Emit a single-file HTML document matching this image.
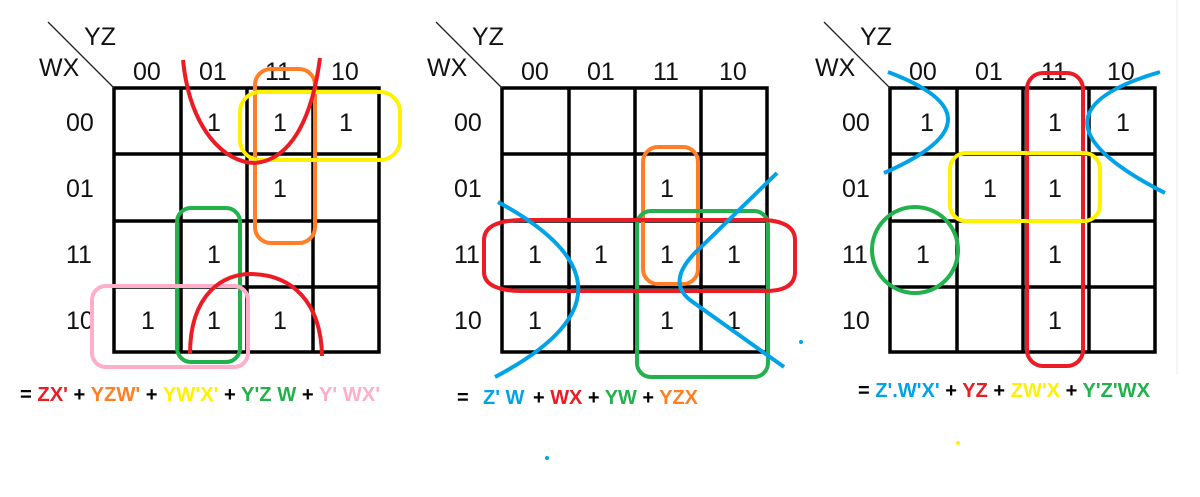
<!DOCTYPE html>
<html><head><meta charset="utf-8"><style>
html,body{margin:0;padding:0;background:#fff;width:1200px;height:497px;overflow:hidden}
svg text{font-family:"Liberation Sans",Arial,sans-serif}
</style></head><body>
<svg width="1200" height="497" viewBox="0 0 1200 497" xmlns="http://www.w3.org/2000/svg">
<defs>
<g id="kmap">
  <g stroke="#000" stroke-width="3.5" fill="none">
    <rect x="0" y="0" width="265" height="264"/>
    <line x1="67" y1="0" x2="67" y2="264"/><line x1="133" y1="0" x2="133" y2="264"/><line x1="199" y1="0" x2="199" y2="264"/>
    <line x1="0" y1="66" x2="265" y2="66"/><line x1="0" y1="133" x2="265" y2="133"/><line x1="0" y1="199" x2="265" y2="199"/>
  </g>
  <line x1="-66" y1="-66" x2="0" y2="0" stroke="#222" stroke-width="1.3"/>
  <g font-size="25" fill="#111">
    <text x="-30" y="-43">YZ</text>
    <text x="-75" y="-12">WX</text>
    <text x="19" y="-8">00</text><text x="85" y="-8">01</text><text x="151" y="-8">11</text><text x="217" y="-8">10</text>
    <text x="-48" y="43">00</text><text x="-48" y="109">01</text><text x="-48" y="175">11</text><text x="-48" y="241">10</text>
  </g>
</g>
</defs>

<use href="#kmap" x="114" y="88"/>
<use href="#kmap" x="502" y="88"/>
<use href="#kmap" x="890" y="88"/>

<g font-size="25" fill="#111" text-anchor="middle">
  <text x="214" y="131">1</text><text x="280" y="131">1</text><text x="346" y="131">1</text>
  <text x="280" y="197">1</text>
  <text x="214" y="263">1</text>
  <text x="148" y="329">1</text><text x="214" y="329">1</text><text x="280" y="329">1</text>

  <text x="667" y="197">1</text>
  <text x="535" y="263">1</text><text x="601" y="263">1</text><text x="667" y="263">1</text><text x="734" y="263">1</text>
  <text x="535" y="329">1</text><text x="667" y="329">1</text><text x="734" y="329">1</text>

  <text x="927" y="131">1</text><text x="1055" y="131">1</text><text x="1123" y="131">1</text>
  <text x="990" y="197">1</text><text x="1055" y="197">1</text>
  <text x="923" y="263">1</text><text x="1055" y="263">1</text>
  <text x="1055" y="329">1</text>
</g>

<g fill="none" stroke-width="4">
  <rect x="255" y="69" width="60" height="174" rx="16" stroke="#ff7f27"/>
  <rect x="240" y="92" width="160" height="68" rx="20" stroke="#fff200"/>
  <path d="M183,60 C190,130 225,163 255,163 C290,160 312,120 320,58" stroke="#ed1c24"/>
  <rect x="177" y="208" width="63" height="154" rx="14" stroke="#22b14c"/>
  <rect x="92" y="286" width="156" height="81" rx="14" stroke="#ffaec9"/>
  <path d="M190,354 C190,292 225,274 250,274 C292,274 321,302 322,356" stroke="#ed1c24"/>
</g>

<g fill="none" stroke-width="4">
  <rect x="643" y="147" width="55" height="137" rx="15" stroke="#ff7f27"/>
  <rect x="637" y="211" width="131" height="166" rx="14" stroke="#22b14c"/>
  <path d="M520,220 L765,220 Q795,222 795,240 L795,272 Q795,291 765,291 L520,291 Q484,290 484,272 L484,240 Q484,221 520,220 Z" stroke="#ed1c24"/>
  <path d="M498,202 Q660,290 495,377" stroke="#00a2e8"/>
  <path d="M777,173 L700,248 Q665,280 690,300 L784,367" stroke="#00a2e8"/>
</g>
<circle cx="801" cy="342" r="2" fill="#00a2e8"/>
<circle cx="547" cy="458" r="2" fill="#00a2e8"/>
<circle cx="958" cy="443" r="2" fill="#fff200"/>

<g fill="none" stroke-width="4">
  <rect x="1027" y="73" width="56" height="293" rx="16" stroke="#ed1c24"/>
  <rect x="950" y="153" width="150" height="68" rx="16" stroke="#fff200"/>
  <circle cx="915" cy="250" r="43" stroke="#22b14c"/>
  <path d="M888,72 Q1010,118 884,173" stroke="#00a2e8"/>
  <path d="M1160,72 Q1012,115 1165,193" stroke="#00a2e8"/>
</g>
<line x1="1177" y1="0" x2="1177" y2="375" stroke="#eee" stroke-width="1"/>

<g font-size="20" font-weight="bold">
  <text x="20" y="401" textLength="360" lengthAdjust="spacingAndGlyphs">= <tspan fill="#ed1c24">ZX'</tspan> + <tspan fill="#ff7f27">YZW'</tspan> + <tspan fill="#fff200">YW'X'</tspan> + <tspan fill="#22b14c">Y'Z W</tspan> + <tspan fill="#ffaec9">Y' WX'</tspan></text>
  <text x="457" y="404">=</text>
  <text x="483" y="404" fill="#00a2e8">Z' W</text>
  <text x="533" y="404" textLength="165" lengthAdjust="spacingAndGlyphs">+ <tspan fill="#ed1c24">WX</tspan> + <tspan fill="#22b14c">YW</tspan> + <tspan fill="#ff7f27">YZX</tspan></text>
  <text x="858" y="397" textLength="292" lengthAdjust="spacingAndGlyphs">= <tspan fill="#00a2e8">Z'.W'X'</tspan> + <tspan fill="#ed1c24">YZ</tspan> + <tspan fill="#fff200">ZW'X</tspan> + <tspan fill="#22b14c">Y'Z'WX</tspan></text>
</g>
</svg>
</body></html>
